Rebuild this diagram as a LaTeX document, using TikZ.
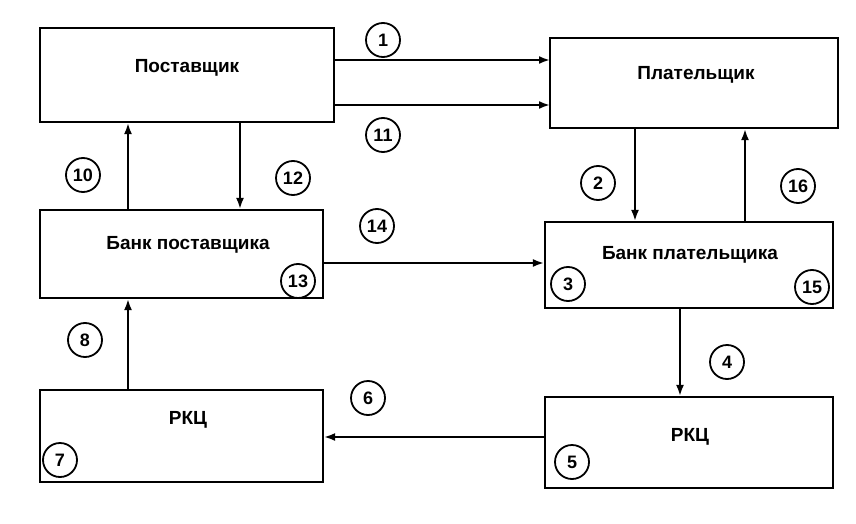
\documentclass[tikz,border=0pt]{standalone}
\usepackage{fontspec}
\usetikzlibrary{arrows.meta}
\setmainfont{Liberation Sans}
\begin{document}
\begin{tikzpicture}[x=1pt,y=-1pt,
 lbl/.style={font=\fontsize{19}{22}\selectfont\bfseries},
 box/.style={draw,line width=2.2pt,inner sep=0pt},
 num/.style={draw,circle,line width=1.8pt,minimum size=34pt,inner sep=0pt,font=\fontsize{18}{21}\selectfont\bfseries},
 arr/.style={-{Latex[length=11pt,width=8pt]},line width=2pt}]
\useasboundingbox (0,0) rectangle (856,524);
\node[box,minimum width=294pt,minimum height=94pt] (ps) at (187,75) {};
\node[lbl] at (187,68) {Поставщик};
\node[box,minimum width=288pt,minimum height=90pt] (pl) at (694,83) {};
\node[lbl] at (696,75) {Плательщик};
\node[box,minimum width=283pt,minimum height=88pt] (bp) at (181.5,254) {};
\node[lbl] at (188,245) {Банк поставщика};
\node[box,minimum width=288pt,minimum height=86pt] (bpl) at (689,265) {};
\node[lbl] at (690,255) {Банк плательщика};
\node[box,minimum width=283pt,minimum height=92pt] (r1) at (181.5,436) {};
\node[lbl] at (188,420) {РКЦ};
\node[box,minimum width=288pt,minimum height=91pt] (r2) at (689,442.5) {};
\node[lbl] at (690,437) {РКЦ};
\coordinate (a1) at (334,60); \coordinate (b1) at (550,60);
\coordinate (a11) at (334,105); \coordinate (b11) at (550,105);
\draw[arr] (a1) -- (b1);
\draw[arr] (a11) -- (b11);
\draw[arr] (ps.south -| 240,0) -- (bp.north -| 240,0);
\draw[arr] (bp.north -| 128,0) -- (ps.south -| 128,0);
\draw[arr] (bp.east |- 0,263) -- (bpl.west |- 0,263);
\draw[arr] (pl.south -| 635,0) -- (bpl.north -| 635,0);
\draw[arr] (bpl.north -| 745,0) -- (pl.south -| 745,0);
\draw[arr] (bpl.south -| 680,0) -- (r2.north -| 680,0);
\draw[arr] (r2.west |- 0,437) -- (r1.east |- 0,437);
\draw[arr] (r1.north -| 128,0) -- (bp.south -| 128,0);
\node[num] (n1) at (383,40) {1};
\node[num] (n11) at (383,135) {11};
\node[num] (n12) at (293,178) {12};
\node[num] (n10) at (83,175) {10};
\node[num] (n14) at (377,226) {14};
\node[num] (n13) at (298,281) {13};
\node[num] (n2) at (598,183) {2};
\node[num] (n16) at (798,186) {16};
\node[num] (n3) at (568,284) {3};
\node[num] (n15) at (812,287) {15};
\node[num] (n4) at (727,362) {4};
\node[num] (n5) at (572,462) {5};
\node[num] (n6) at (368,398) {6};
\node[num] (n7) at (60,460) {7};
\node[num] (n8) at (85,340) {8};
\end{tikzpicture}
\end{document}
